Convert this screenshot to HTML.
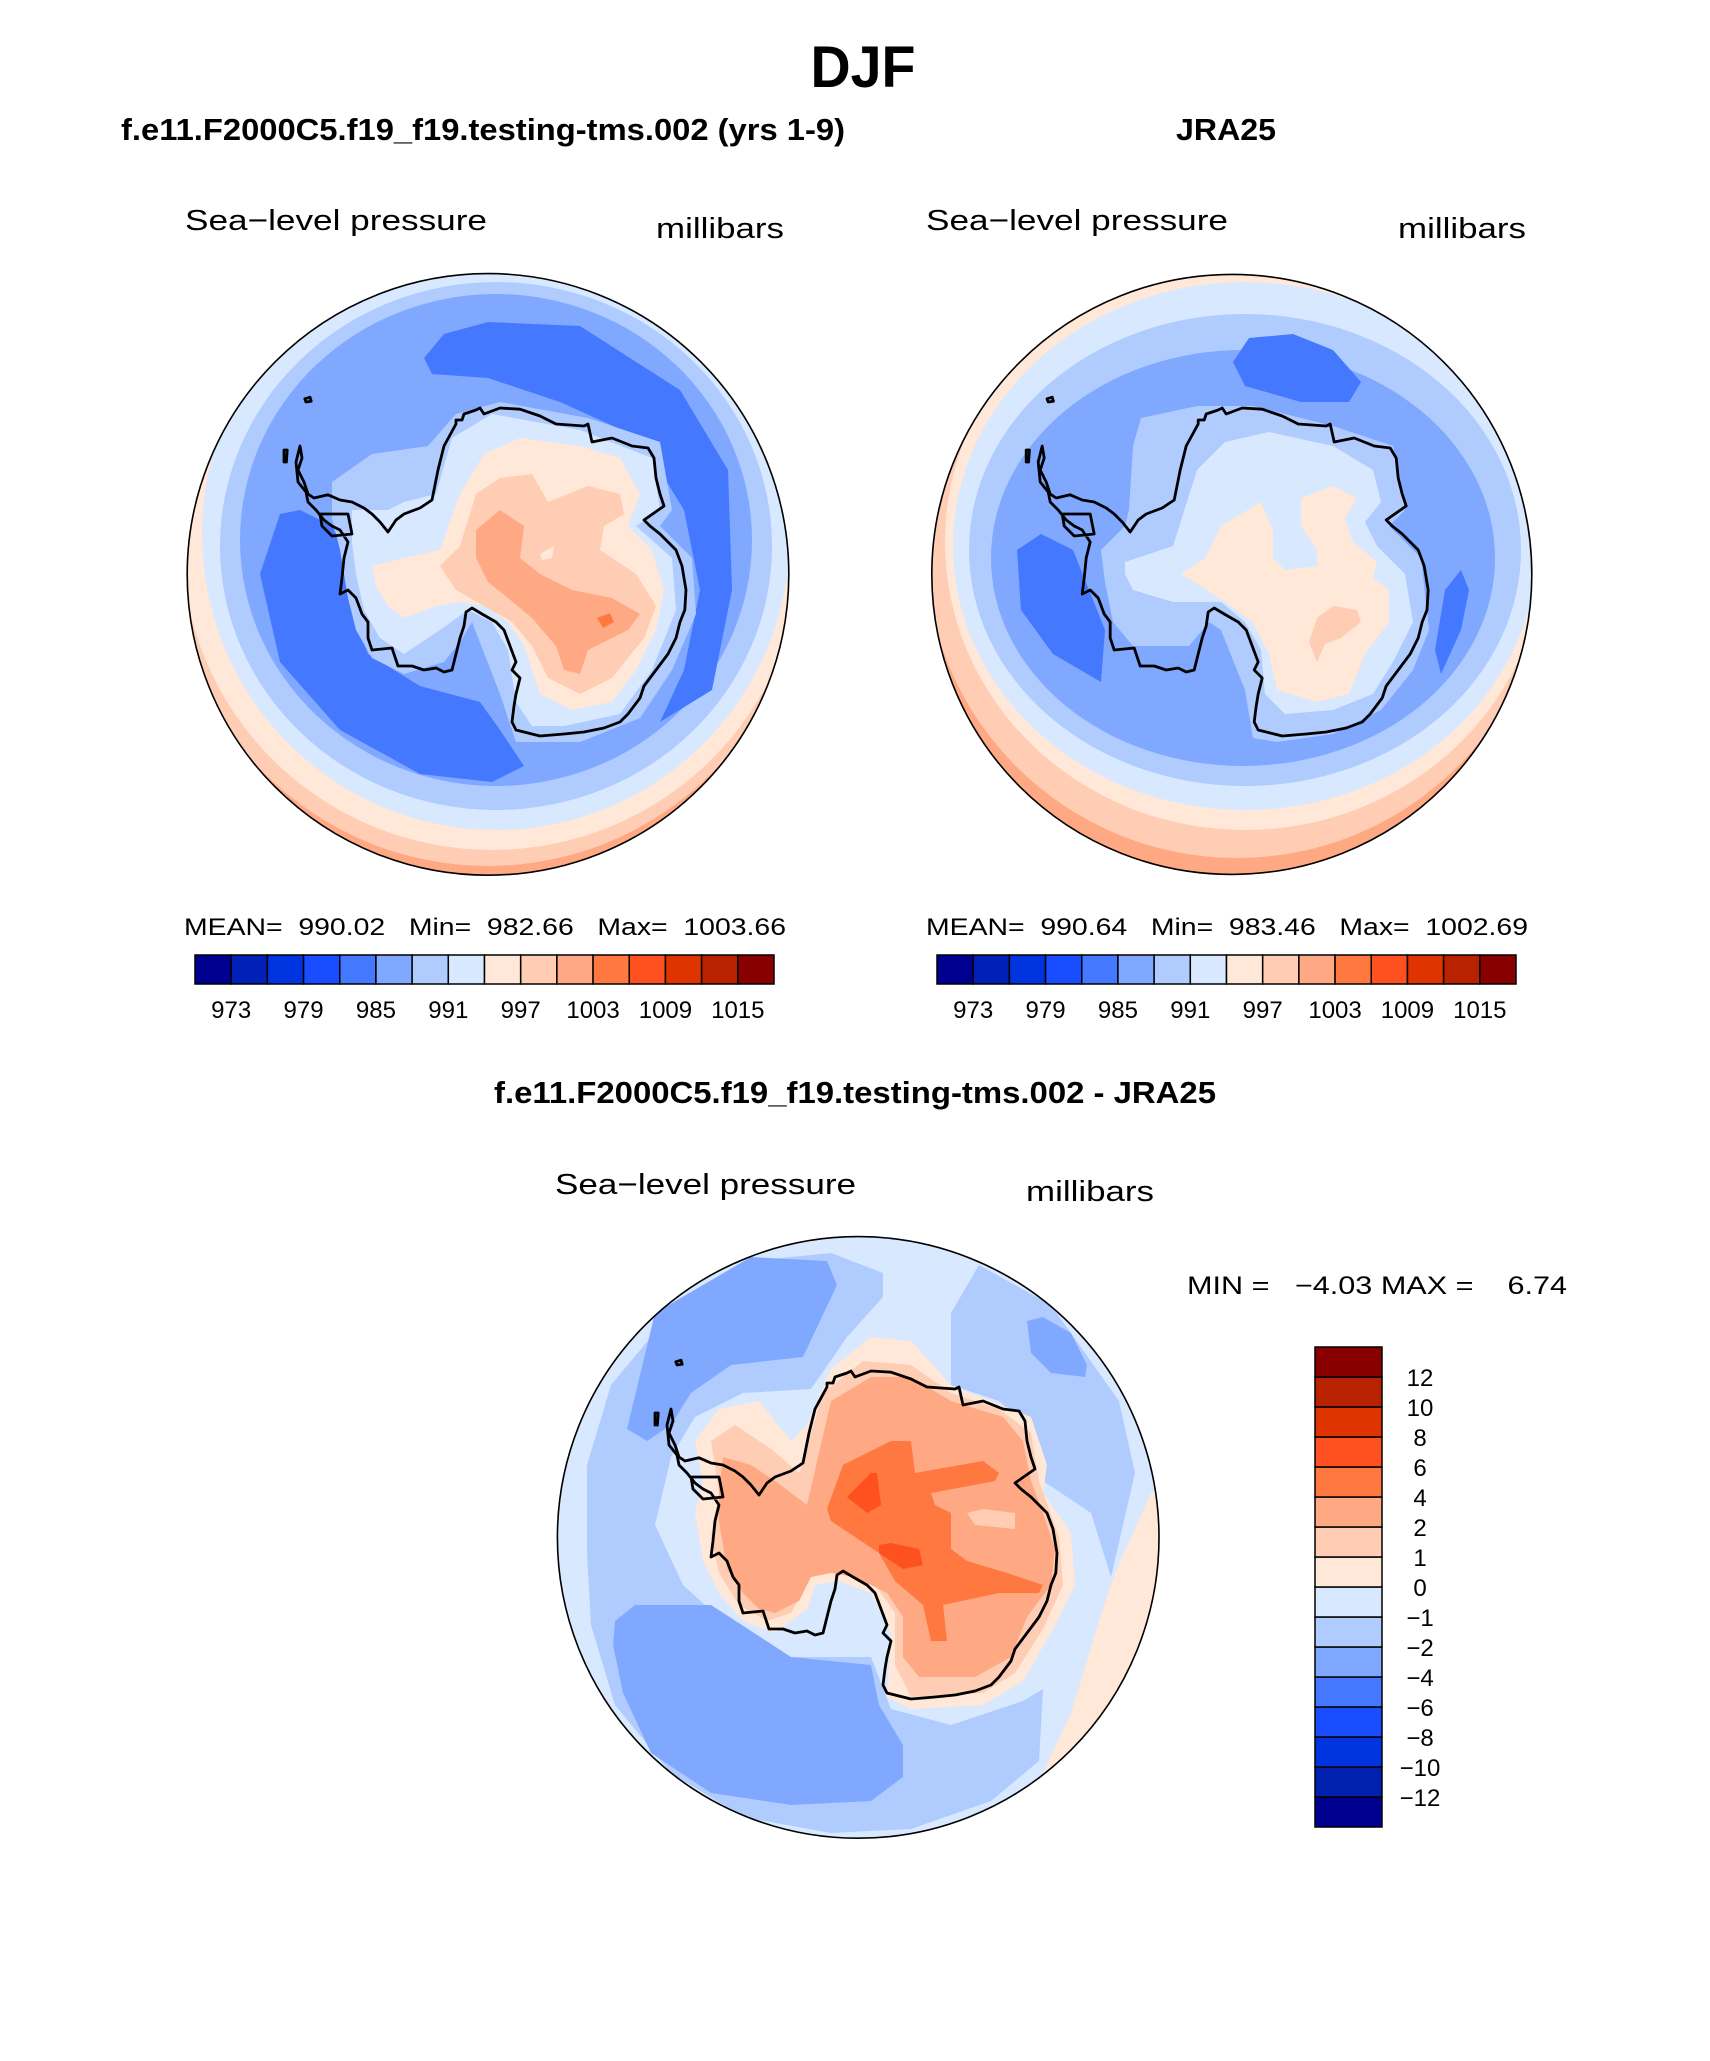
<!DOCTYPE html>
<html><head><meta charset="utf-8"><style>
html,body{margin:0;padding:0;background:#fff;}
svg{display:block;font-family:"Liberation Sans",sans-serif;}
text{white-space:pre;}
.t{font-weight:bold;fill:#000;}
.l{fill:#000;}
</style></head><body>
<svg id="fig" width="1710" height="2061" viewBox="0 0 1710 2061" xmlns="http://www.w3.org/2000/svg">
<defs>
<clipPath id="cL"><circle cx="770" cy="761" r="752"/></clipPath>
<clipPath id="cR"><circle cx="747" cy="761" r="750"/></clipPath>
<clipPath id="cB"><circle cx="768" cy="761" r="752"/></clipPath>
<path id="coast" d="M300,440 L305,470 295,500 310,530 320,560 335,570 370,562 400,575 430,580 460,595 480,610 500,630 520,655 540,625 560,610 600,595 630,575 645,500 660,440 690,385 690,375 705,375 710,360 725,355 740,350 750,345 760,360 800,345 850,348 900,365 940,385 1010,390 1020,385 1030,430 1080,420 1130,440 1170,445 1185,470 1190,520 1200,560 1210,590 1160,625 1175,640 1200,660 1240,700 1255,740 1265,800 1262,850 1250,880 1240,920 1220,960 1190,1000 1160,1040 1150,1070 1120,1110 1100,1130 1060,1145 1010,1155 960,1160 900,1165 880,1160 840,1150 830,1130 835,1090 840,1060 850,1020 830,1000 840,980 810,900 790,880 755,860 730,845 715,855 710,890 700,920 690,960 680,1000 660,1005 640,995 610,1000 580,990 545,990 530,945 480,950 470,920 470,880 455,860 440,820 420,800 400,810 405,770 410,720 420,680 400,650 380,640 360,625 340,600 320,580 315,555 295,530 290,480 Z M350,610 L420,610 430,660 380,665 355,640 Z M260,450 L268,450 266,480 260,480 Z M312,322 L325,318 328,328 315,330 Z"/>
</defs>

<text class="t" x="863" y="87" font-size="58" text-anchor="middle" textLength="105" lengthAdjust="spacingAndGlyphs">DJF</text>
<text class="t" x="121" y="140" font-size="31" textLength="724" lengthAdjust="spacingAndGlyphs">f.e11.F2000C5.f19_f19.testing-tms.002 (yrs 1-9)</text>
<text class="t" x="1176" y="140" font-size="31" textLength="100" lengthAdjust="spacingAndGlyphs">JRA25</text>

<text class="l" x="185" y="230" font-size="29" textLength="302" lengthAdjust="spacingAndGlyphs">Sea−level pressure</text>
<text class="l" x="656" y="238" font-size="29" textLength="128" lengthAdjust="spacingAndGlyphs">millibars</text>
<text class="l" x="926" y="230" font-size="29" textLength="302" lengthAdjust="spacingAndGlyphs">Sea−level pressure</text>
<text class="l" x="1398" y="238" font-size="29" textLength="128" lengthAdjust="spacingAndGlyphs">millibars</text>

<!-- LEFT MAP -->
<g transform="translate(180,270) scale(0.4)">
<g clip-path="url(#cL)">
<rect x="0" y="0" width="1560" height="1560" fill="#FFA884"/>
<circle cx="770" cy="700" r="790" fill="#FFCCB4"/>
<ellipse cx="780" cy="680" rx="775" ry="770" fill="#FFE8D8"/>
<ellipse cx="790" cy="660" rx="735" ry="740" fill="#D8E8FF"/>
<ellipse cx="790" cy="690" rx="690" ry="660" fill="#B0CCFF"/>
<ellipse cx="790" cy="675" rx="640" ry="615" fill="#80A8FF"/>
<path fill="#4478FF" d="M610,220 L660,160 770,130 1000,140 1250,300 1370,500 1380,800 1330,1050 1200,1130 1260,1000 1300,800 1260,600 1150,420 950,330 770,270 630,260 Z"/>
<path fill="#4478FF" d="M200,760 L250,610 300,600 380,640 420,720 440,880 470,960 600,1040 750,1080 800,1150 860,1240 780,1280 600,1260 400,1150 250,980 Z"/>
<path fill="#B0CCFF" d="M380,530 L480,460 620,440 690,360 800,330 1020,370 1200,430 1230,600 1200,640 1280,720 1290,860 1230,1000 1150,1120 1000,1180 840,1180 800,1060 730,880 700,930 660,980 560,1010 480,970 440,900 420,820 400,700 380,620 Z"/>
<path fill="#D8E8FF" d="M430,600 L520,600 560,580 640,560 680,420 780,360 1000,400 1180,470 1200,600 1140,640 1230,720 1240,850 1180,1000 1100,1110 960,1140 880,1140 840,1080 820,950 780,880 720,850 650,900 560,960 500,920 460,850 440,760 430,680 Z"/>
<path fill="#FFE8D8" d="M480,740 L560,720 650,700 700,560 760,460 850,420 1000,440 1100,470 1150,560 1120,640 1180,700 1210,800 1190,900 1140,1000 1080,1080 980,1100 900,1060 860,940 820,880 760,840 700,830 640,840 560,870 520,840 490,790 Z"/>
<path fill="#FFCCB4" d="M650,740 L700,690 740,560 800,520 880,510 920,580 1020,540 1100,560 1110,610 1060,640 1050,700 1140,760 1190,840 1160,920 1080,1020 1000,1060 920,1020 880,940 830,880 760,840 690,800 Z"/>
<path fill="#FFA884" d="M740,650 L800,600 860,640 850,720 900,760 980,800 1080,820 1150,860 1120,900 1020,950 1000,1010 960,1000 940,940 880,870 820,820 770,780 740,720 Z"/>
<path fill="#FFCCB4" d="M1005,605 L1048,598 1052,615 1010,622 Z"/>
<path fill="#FFE8D8" d="M900,710 L935,690 930,720 905,725 Z"/>
<path fill="#FF7840" d="M1042,870 L1075,858 1085,880 1058,895 Z"/>
<use href="#coast" fill="none" stroke="#000" stroke-width="7" stroke-linejoin="round"/>
</g>
<circle cx="770" cy="761" r="752" fill="none" stroke="#000" stroke-width="4"/>
</g>

<!-- RIGHT MAP -->
<g transform="translate(933,270) scale(0.4)">
<g clip-path="url(#cR)">
<rect x="0" y="0" width="1560" height="1560" fill="#FFA884"/>
<circle cx="760" cy="690" r="780" fill="#FFCCB4"/>
<ellipse cx="780" cy="680" rx="750" ry="720" fill="#FFE8D8"/>
<ellipse cx="780" cy="690" rx="730" ry="660" fill="#D8E8FF"/>
<ellipse cx="780" cy="700" rx="690" ry="590" fill="#B0CCFF"/>
<ellipse cx="775" cy="720" rx="630" ry="520" fill="#80A8FF"/>
<path fill="#4478FF" d="M750,230 L790,170 900,160 1000,200 1070,280 1040,330 920,330 780,290 Z"/>
<path fill="#4478FF" d="M210,700 L270,660 350,700 430,900 420,1030 300,960 220,850 Z"/>
<path fill="#4478FF" d="M1280,800 L1320,750 1340,800 1320,900 1270,1010 1255,950 Z"/>
<path fill="#B0CCFF" d="M490,600 L500,440 520,370 660,340 800,340 1000,390 1150,440 1180,600 1140,640 1220,720 1240,900 1200,1000 1120,1100 1000,1160 860,1180 800,1170 780,1050 720,900 690,880 640,940 560,940 500,940 450,880 430,780 420,700 480,640 Z"/>
<path fill="#D8E8FF" d="M480,730 L600,690 660,500 730,430 840,405 1000,440 1100,500 1120,580 1080,630 1110,690 1180,760 1200,880 1150,980 1100,1060 1000,1100 880,1110 830,1060 820,950 780,880 720,830 600,830 500,800 480,760 Z"/>
<path fill="#FFE8D8" d="M620,760 L680,720 720,640 820,580 850,650 850,720 880,750 960,740 960,700 920,640 920,570 1000,540 1060,570 1030,620 1050,680 1110,730 1100,770 1140,800 1140,880 1080,960 1040,1060 960,1080 860,1050 840,960 800,880 700,810 Z"/>
<path fill="#FFCCB4" d="M960,870 L1000,840 1060,850 1070,880 1020,920 980,935 960,980 940,930 Z"/>
<g transform="translate(-27,0)"><use href="#coast" fill="none" stroke="#000" stroke-width="7" stroke-linejoin="round"/></g>
</g>
<circle cx="747" cy="761" r="750" fill="none" stroke="#000" stroke-width="4"/>
</g>

<text class="l" x="184" y="935" font-size="24" textLength="602" lengthAdjust="spacingAndGlyphs">MEAN=  990.02   Min=  982.66   Max=  1003.66</text>
<text class="l" x="926" y="935" font-size="24" textLength="602" lengthAdjust="spacingAndGlyphs">MEAN=  990.64   Min=  983.46   Max=  1002.69</text>

<g id="cbars"></g>

<text class="t" x="494" y="1103" font-size="31" textLength="722" lengthAdjust="spacingAndGlyphs">f.e11.F2000C5.f19_f19.testing-tms.002 - JRA25</text>
<text class="l" x="555" y="1194" font-size="29" textLength="301" lengthAdjust="spacingAndGlyphs">Sea−level pressure</text>
<text class="l" x="1026" y="1201" font-size="29" textLength="128" lengthAdjust="spacingAndGlyphs">millibars</text>
<text class="l" x="1187" y="1294" font-size="25" textLength="380" lengthAdjust="spacingAndGlyphs">MIN =   −4.03 MAX =    6.74</text>

<!-- DIFF MAP -->
<g transform="translate(551,1233) scale(0.4)">
<g clip-path="url(#cB)">
<rect x="0" y="0" width="1560" height="1560" fill="#D8E8FF"/>
<path fill="#B0CCFF" d="M90,580 L150,380 300,200 500,70 700,50 830,100 830,160 740,260 650,390 480,400 360,460 300,560 260,730 330,880 440,980 600,1060 800,1060 850,1190 1000,1230 1180,1170 1230,1140 1220,1320 1100,1420 900,1490 700,1500 480,1460 300,1350 160,1180 100,980 90,800 Z"/>
<path fill="#B0CCFF" d="M1000,200 L1070,80 1250,180 1420,420 1460,600 1400,860 1350,700 1230,620 1200,500 1120,420 1000,380 1000,280 Z"/>
<path fill="#80A8FF" d="M190,490 L260,200 500,60 690,70 715,130 630,310 450,330 350,400 300,480 240,520 Z"/>
<path fill="#80A8FF" d="M160,970 L210,930 400,930 600,1060 800,1080 820,1180 880,1280 880,1360 800,1420 600,1430 400,1400 250,1300 180,1150 155,1030 Z"/>
<path fill="#80A8FF" d="M1190,220 L1230,210 1300,250 1340,330 1335,360 1250,350 1200,300 Z"/>
<path fill="#FFE8D8" d="M1230,1350 L1300,1200 1370,970 1410,850 1500,650 1560,600 1560,1100 1420,1200 1320,1330 Z"/>
<path fill="#FFCCB4" d="M1440,1200 L1500,1000 1520,900 1560,900 1560,1200 Z"/>
<path fill="#FFE8D8" d="M360,520 L420,440 520,420 600,520 640,480 700,340 800,260 900,270 1000,380 1100,420 1200,460 1240,580 1230,650 1300,750 1310,880 1250,1000 1180,1120 1080,1180 900,1190 840,1160 850,1000 800,900 720,870 660,880 640,940 560,1000 480,970 420,900 380,820 360,700 380,620 Z"/>
<path fill="#FFCCB4" d="M400,520 L460,480 550,540 620,600 680,400 780,320 900,330 1000,400 1120,440 1200,500 1220,620 1270,760 1280,880 1230,990 1160,1100 1080,1150 900,1160 860,1080 860,950 810,880 720,840 650,860 600,950 540,970 470,930 420,850 400,760 420,650 Z"/>
<path fill="#FFA884" d="M430,560 L500,580 560,620 640,680 700,420 800,360 900,360 1000,420 1130,460 1180,520 1200,620 1230,700 1260,790 1250,880 1190,960 1150,1060 1060,1110 920,1110 880,1060 880,960 840,900 760,860 700,850 650,860 620,920 560,950 520,940 480,900 440,840 420,720 420,640 Z"/>
<path fill="#FF7840" d="M690,690 L730,580 850,520 900,520 910,600 1080,570 1120,600 1110,620 950,650 960,680 1000,700 1000,790 1040,820 1140,850 1230,880 1220,900 1120,900 980,930 990,1020 950,1020 930,930 860,870 820,800 760,760 700,720 Z"/>
<path fill="#FFCCB4" d="M1040,700 L1080,690 1160,700 1160,740 1060,730 Z"/>
<path fill="#FF5020" d="M740,660 L800,600 815,600 825,680 790,700 Z"/>
<path fill="#FF5020" d="M820,780 L850,775 920,790 930,830 880,840 820,800 Z"/>
<use href="#coast" fill="none" stroke="#000" stroke-width="7" stroke-linejoin="round"/>
</g>
<circle cx="768" cy="761" r="752" fill="none" stroke="#000" stroke-width="4"/>
</g>
</svg>
<script>
const absColors = ["#000090","#0020B8","#0034E0","#1A4DFF","#4478FF","#80A8FF","#B0CCFF","#D8E8FF","#FFE8D8","#FFCCB4","#FFA884","#FF7840","#FF5020","#E03400","#B82200","#880000"];
const absLabels = ["973","979","985","991","997","1003","1009","1015"];
const diffColors = ["#000090","#0020B0","#0034E0","#1A4DFF","#4478FF","#80A8FF","#B0CCFF","#D8E8FF","#FFE8D8","#FFCCB4","#FFA884","#FF7840","#FF5020","#E03400","#B82200","#880000"];
const diffLabels = ["−12","−10","−8","−6","−4","−2","−1","0","1","2","4","6","8","10","12"];
const NS = "http://www.w3.org/2000/svg";
const root = document.getElementById("cbars");
function mk(tag, attrs){ const e=document.createElementNS(NS,tag); for(const k in attrs) e.setAttribute(k,attrs[k]); return e; }
function hbar(x0, x1, y0, y1, name){
  const g = mk("g",{});
  
  
  const w = (x1-x0)/absColors.length;
  absColors.forEach((c,i)=>{
    const r = mk("rect",{x:x0+i*w,y:y0,width:w,height:y1-y0,fill:c,stroke:"#000","stroke-width":1.5});
    
    
    g.appendChild(r);
  });
  absLabels.forEach((t,i)=>{
    const tx = mk("text",{x:x0+(2*i+1)*w,y:1018,"font-size":24,"text-anchor":"middle",fill:"#000"});
    tx.textContent = t;
    
    
    g.appendChild(tx);
  });
  root.appendChild(g);
}
hbar(195, 774, 955, 984, 'model-colorbar');
hbar(937, 1516, 955, 984, 'obs-colorbar');
(function(){
  const g = mk("g",{});
  
  
  const x0=1315, x1=1382, y0=1347, y1=1827;
  const n = diffColors.length, h=(y1-y0)/n;
  diffColors.forEach((c,i)=>{
    const r = mk("rect",{x:x0,y:y1-(i+1)*h,width:x1-x0,height:h,fill:c,stroke:"#000","stroke-width":1.5});
    
    
    g.appendChild(r);
  });
  diffLabels.forEach((t,i)=>{
    const yb = y1-(i+1)*h;
    const tx = mk("text",{x:1420,y:yb+9,"font-size":24,"text-anchor":"middle",fill:"#000"});
    tx.textContent = t;
    
    
    g.appendChild(tx);
  });
  root.appendChild(g);
})();
</script>
</body></html>
